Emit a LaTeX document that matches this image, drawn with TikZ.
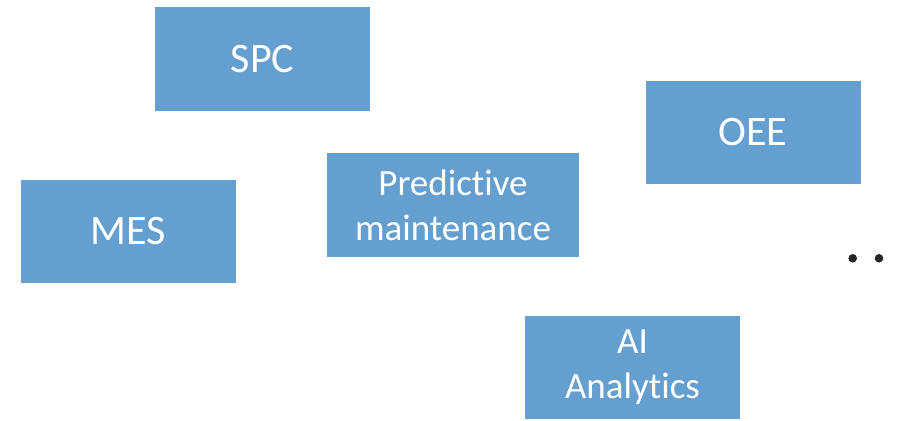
\documentclass[tikz,border=0pt]{standalone}
\usepackage{fontspec}
\setmainfont[Ligatures=NoCommon]{Carlito}
\definecolor{boxblue}{HTML}{659FCF}
\definecolor{dotgray}{HTML}{262626}
\tikzset{
  appbox/.style={fill=boxblue,text=white,align=center,inner sep=0pt,
    minimum width=215pt,minimum height=103pt},
  bigtext/.style={font=\fontsize{42}{50}\selectfont},
  smalltext/.style={font=\fontsize{37}{45}\selectfont}
}
\begin{document}
\begin{tikzpicture}[x=1pt,y=-1pt]
            \useasboundingbox (0,0) rectangle (901,420);
            \node [appbox,bigtext] (spc) at (262.5,59) {SPC};
            \node [appbox,bigtext] (oee) at (753,132.5) {OEE};
            \node [appbox,bigtext] (mes) at (128,231) {MES};
            \node [appbox,smalltext,minimum width=252pt,minimum height=104pt] (pm) at (453,205)
                {Predictive\\maintenance};
            \node [appbox,smalltext] (ai) at (632.5,367.5) {AI\\Analytics};
            \fill [dotgray] (852.7,258.3) circle (4.3) (879,258.3) circle (4.3);
        \end{tikzpicture}
\end{document}
